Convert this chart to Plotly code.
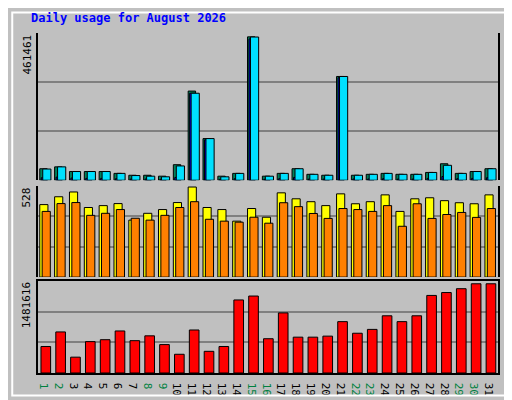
import plotly.graph_objects as go

days = list(range(1, 32))
hits = [37000, 43000, 28000, 28000, 28000, 22000, 16000, 16000, 13000, 50000,
        287000, 134000, 13000, 22000, 461461, 13000, 22000, 37000, 19000, 16000,
        334000, 16000, 19000, 22000, 19000, 19000, 25000, 53000, 22000, 28000, 37000]
files = [8000, 10000, 7000, 6000, 6000, 5000, 4000, 4000, 3000, 9000,
         280000, 130000, 3000, 5000, 455000, 3000, 5000, 9000, 4000, 4000,
         330000, 4000, 4000, 5000, 4000, 4000, 6000, 12000, 5000, 6000, 8000]
pages = [36000, 43000, 28000, 28000, 28000, 22000, 15000, 13000, 11000, 46000,
         280000, 134000, 11000, 22000, 461000, 13000, 22000, 37000, 19000, 16000,
         334000, 16000, 19000, 22000, 19000, 19000, 25000, 48000, 22000, 28000, 37000]
visits = [425, 471, 499, 408, 419, 431, 334, 374, 396, 437, 528, 408, 396, 328, 402, 351,
          494, 459, 442, 419, 488, 430, 442, 482, 385, 459, 465, 448, 436, 430, 482]
sites = [385, 431, 437, 362, 374, 396, 345, 334, 362, 408, 442, 339, 328, 322, 351, 316,
         436, 413, 373, 344, 402, 396, 385, 419, 298, 430, 344, 367, 379, 350, 402]
kbytes = [440000, 682000, 263000, 521000, 553000, 698000, 537000, 617000, 472000, 311000,
          714000, 360000, 440000, 1213000, 1278000, 569000, 998000, 595000, 595000, 612000,
          853000, 660000, 724000, 950000, 853000, 950000, 1288000, 1336000, 1400000,
          1481616, 1481616]
weekend = {1, 2, 8, 9, 15, 16, 22, 23, 29, 30}

fig = go.Figure()
line = dict(color="black", width=1)

def bar(y, color, off, w, ax):
    fig.add_trace(go.Bar(x=days, y=y, marker=dict(color=color, line=line),
                         offset=off, width=w, yaxis=ax, hoverinfo="y"))

bar(hits, "#00805c", -0.38, 0.5, "y")
bar(files, "#0000ff", -0.28, 0.42, "y")
bar(pages, "#00e0ff", -0.18, 0.55, "y")
bar(visits, "#ffff00", -0.38, 0.55, "y2")
bar(sites, "#ff8000", -0.22, 0.55, "y2")
bar(kbytes, "#ff0000", -0.3, 0.65, "y3")

def yax(top, dom):
    return dict(domain=dom, range=[0, top], tickvals=[top / 3, 2 * top / 3],
                showticklabels=False, gridcolor="#808080", gridwidth=1.5, zeroline=False,
                showline=True, linecolor="black", linewidth=2, mirror=True, fixedrange=True,
                anchor="x")

fig.update_layout(
    width=512, height=400, showlegend=False, barmode="overlay",
    paper_bgcolor="#c0c0c0", plot_bgcolor="#c0c0c0",
    margin=dict(l=30, r=22, t=25, b=24),
    xaxis=dict(range=[0.5, 31.5], tickvals=days, showgrid=False, anchor="y3",
               ticktext=[f"<span style='color:{'#008040' if d in weekend else 'black'}'>{d}</span>" for d in days],
               tickfont=dict(family="DejaVu Sans Mono", size=11), ticks="",
               showline=True, linecolor="black", linewidth=2, mirror=True),
    yaxis=yax(473932, [0.567, 1.0]),
    yaxis2=yax(534, [0.282, 0.550]),
    yaxis3=yax(1530000, [0.0, 0.271]),
)

mono = "DejaVu Sans Mono"
fig.add_annotation(text="<b>Daily usage for August 2026</b>", xref="paper", yref="paper",
                   x=-0.02, y=1.0, yshift=6, xanchor="left", yanchor="bottom", showarrow=False,
                   font=dict(family=mono, size=12, color="#0000ff"))
for txt, y in [("461461", 1.0), ("528", 0.550), ("1481616", 0.271)]:
    fig.add_annotation(text=txt, xref="paper", yref="paper", x=0, y=y, xshift=-3,
                       xanchor="right", yanchor="top", textangle=-90, showarrow=False,
                       font=dict(family=mono, size=11, color="black"))
right = [("<span style='color:#00e0ff'>Pages</span> / <span style='color:#0000ff'>Files</span>"
          " / <span style='color:#00805c'>Hits</span>", 1.0),
         ("<span style='color:#ff8000'>Sites</span> / <span style='color:#ffff00'>Visits</span>", 0.550),
         ("<span style='color:#ff0000'>KB F</span>", 0.271)]
for txt, y in right:
    fig.add_annotation(text=txt, xref="paper", yref="paper", x=1, y=y, xshift=3,
                       xanchor="left", yanchor="top", textangle=-90, showarrow=False,
                       font=dict(family=mono, size=11, color="#808080"))

fig.add_shape(type="rect", xref="paper", yref="paper", x0=-0.056, x1=1.04, y0=-0.066, y1=1.06,
              line=dict(color="white", width=2))
fig.write_html("out.html")
